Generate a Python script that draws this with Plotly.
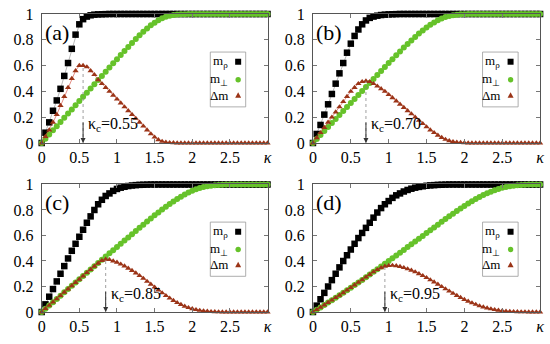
import plotly.graph_objects as go

# ---------------- data ----------------
kappa = [0.00, 0.05, 0.10, 0.15, 0.20, 0.25, 0.30, 0.35, 0.40, 0.45,
         0.50, 0.55, 0.60, 0.65, 0.70, 0.75, 0.80, 0.85, 0.90, 0.95,
         1.00, 1.05, 1.10, 1.15, 1.20, 1.25, 1.30, 1.35, 1.40, 1.45,
         1.50, 1.55, 1.60, 1.65, 1.70, 1.75, 1.80, 1.85, 1.90, 1.95,
         2.00, 2.05, 2.10, 2.15, 2.20, 2.25, 2.30, 2.35, 2.40, 2.45,
         2.50, 2.55, 2.60, 2.65, 2.70, 2.75, 2.80, 2.85, 2.90, 2.95,
         3.00]

# panel (a)
m_rho_a = [0, .08, .16, .25, .33, .42, .52, .62, .73, .84,
           .92, .96, .98, .99, .995, .997, .998, .999, 1, 1,
           1, 1, 1, 1, 1, 1, 1, 1, 1, 1,
           1, 1, 1, 1, 1, 1, 1, 1, 1, 1,
           1, 1, 1, 1, 1, 1, 1, 1, 1, 1,
           1, 1, 1, 1, 1, 1, 1, 1, 1, 1,
           1]
m_perp_a = [0, .033, .065, .098, .13, .163, .195, .228, .26, .293,
            .325, .358, .39, .423, .455, .488, .52, .553, .585, .618,
            .65, .682, .714, .745, .776, .806, .835, .862, .888, .912,
            .933, .952, .967, .979, .987, .992, .996, .998, .999, 1,
            1, 1, 1, 1, 1, 1, 1, 1, 1, 1,
            1, 1, 1, 1, 1, 1, 1, 1, 1, 1,
            1]
dm_a = [0, .05, .10, .16, .22, .29, .36, .43, .50, .56,
        .60, .60, .59, .56, .53, .49, .46, .43, .40, .37,
        .34, .31, .28, .25, .22, .19, .16, .13, .10, .07,
        .045, .025, .012, .005, .002, .001, 0, 0, 0, 0,
        0, 0, 0, 0, 0, 0, 0, 0, 0, 0,
        0, 0, 0, 0, 0, 0, 0, 0, 0, 0,
        0]

# panel (b)
m_rho_b = [0, .07, .14, .22, .30, .38, .46, .54, .62, .70,
           .77, .83, .88, .92, .95, .97, .98, .987, .992, .995,
           .997, .998, .999, 1, 1, 1, 1, 1, 1, 1,
           1, 1, 1, 1, 1, 1, 1, 1, 1, 1,
           1, 1, 1, 1, 1, 1, 1, 1, 1, 1,
           1, 1, 1, 1, 1, 1, 1, 1, 1, 1,
           1]
m_perp_b = [0, .031, .062, .093, .124, .155, .186, .217, .248, .279,
            .31, .341, .372, .403, .434, .465, .496, .527, .558, .589,
            .62, .65, .68, .71, .74, .768, .795, .822, .848, .872,
            .895, .916, .935, .951, .965, .976, .985, .991, .995, .998,
            .999, 1, 1, 1, 1, 1, 1, 1, 1, 1,
            1, 1, 1, 1, 1, 1, 1, 1, 1, 1,
            1]
dm_b = [0, .04, .08, .12, .16, .20, .24, .28, .32, .36,
        .40, .43, .46, .475, .48, .475, .46, .44, .42, .40,
        .375, .35, .325, .30, .275, .25, .225, .20, .175, .15,
        .125, .10, .08, .06, .042, .028, .017, .01, .005, .003,
        .001, 0, 0, 0, 0, 0, 0, 0, 0, 0,
        0, 0, 0, 0, 0, 0, 0, 0, 0, 0,
        0]

# panel (c)
m_rho_c = [0, .06, .12, .18, .24, .30, .36, .42, .48, .535,
           .59, .645, .70, .75, .80, .845, .88, .91, .93, .95,
           .965, .975, .982, .988, .992, .995, .997, .998, .999, 1,
           1, 1, 1, 1, 1, 1, 1, 1, 1, 1,
           1, 1, 1, 1, 1, 1, 1, 1, 1, 1,
           1, 1, 1, 1, 1, 1, 1, 1, 1, 1,
           1]
m_perp_c = [0, .026, .052, .077, .103, .128, .154, .18, .205, .231,
            .256, .282, .308, .333, .359, .384, .41, .435, .46, .485,
            .51, .535, .56, .585, .61, .635, .66, .685, .71, .734,
            .758, .781, .804, .826, .847, .867, .886, .904, .921, .937,
            .951, .963, .973, .981, .987, .991, .994, .996, .998, .999,
            1, 1, 1, 1, 1, 1, 1, 1, 1, 1,
            1]
dm_c = [0, .026, .052, .077, .103, .128, .154, .18, .205, .231,
        .256, .282, .308, .333, .358, .382, .403, .413, .41, .40,
        .39, .375, .36, .343, .325, .305, .285, .263, .24, .217,
        .195, .172, .15, .128, .108, .09, .073, .058, .045, .034,
        .025, .018, .012, .008, .005, .003, .002, .001, 0, 0,
        0, 0, 0, 0, 0, 0, 0, 0, 0, 0,
        0]

# panel (d)
m_rho_d = [0, .05, .10, .15, .20, .25, .30, .35, .40, .445,
           .49, .535, .58, .62, .66, .70, .74, .78, .815, .845,
           .87, .895, .915, .93, .945, .957, .967, .975, .981, .986,
           .99, .993, .995, .997, .998, .999, 1, 1, 1, 1,
           1, 1, 1, 1, 1, 1, 1, 1, 1, 1,
           1, 1, 1, 1, 1, 1, 1, 1, 1, 1,
           1]
m_perp_d = [0, .018, .036, .055, .074, .093, .112, .131, .151, .171,
            .191, .211, .232, .252, .273, .294, .315, .336, .357, .378,
            .40, .421, .443, .465, .487, .509, .531, .553, .575, .597,
            .619, .641, .663, .685, .707, .729, .75, .771, .792, .812,
            .832, .851, .869, .886, .902, .917, .931, .944, .955, .965,
            .974, .981, .987, .991, .994, .996, .998, .999, .999, 1,
            1]
dm_d = [0, .018, .036, .055, .074, .093, .112, .131, .151, .171,
        .191, .211, .232, .252, .273, .294, .314, .332, .347, .358,
        .364, .365, .362, .356, .348, .338, .327, .314, .30, .285,
        .269, .252, .235, .217, .199, .181, .163, .146, .129, .113,
        .098, .084, .071, .059, .048, .039, .031, .024, .018, .013,
        .009, .006, .004, .003, .002, .001, .001, 0, 0, 0,
        0]

panel_labels = ["(a)", "(b)", "(c)", "(d)"]
kappa_c = [0.55, 0.70, 0.85, 0.95]
kappa_c_labels = ["0.55", "0.70", "0.85", "0.95"]

x_tick_vals = [0, 0.5, 1, 1.5, 2, 2.5, 3]
x_tick_text = ["0", "0.5", "1", "1.5", "2", "2.5", "<i>κ</i>"]
y_tick_vals = [0, 0.2, 0.4, 0.6, 0.8, 1]
y_tick_text = ["0", "0.2", "0.4", "0.6", "0.8", "1"]

legend_names = ["m<sub>ρ</sub>", "m<sub>⊥</sub>", "Δm"]

series = [
    (m_rho_a, m_perp_a, dm_a),
    (m_rho_b, m_perp_b, dm_b),
    (m_rho_c, m_perp_c, dm_c),
    (m_rho_d, m_perp_d, dm_d),
]

# ---------------- style ----------------
FONT = "Liberation Serif, Times New Roman, Times, serif"
C_RHO = "#000000"
C_PERP = "#66c22a"
C_DM = "#9b3417"

x_domains = [[0.0758, 0.4864], [0.569, 0.982], [0.0758, 0.4864], [0.569, 0.982]]
y_domains = [[0.5843, 0.9593], [0.5843, 0.9593], [0.093, 0.4637], [0.093, 0.4637]]

fig = go.Figure()
layout = dict(
    width=550, height=344,
    margin=dict(l=0, r=0, t=0, b=0, autoexpand=False),
    paper_bgcolor="white", plot_bgcolor="white",
    showlegend=False,
    font=dict(family=FONT, color="black"),
)
annotations = []
shapes = []

for i in range(4):
    sx = "" if i == 0 else str(i + 1)
    xr, yr = "x" + sx, "y" + sx
    m_rho, m_perp, dm = series[i]

    fig.add_trace(go.Scatter(x=kappa, y=m_rho, xaxis=xr, yaxis=yr,
                             mode="lines+markers", cliponaxis=False,
                             line=dict(color="#888888", width=0.6),
                             marker=dict(symbol="square", size=6.5, color=C_RHO)))
    fig.add_trace(go.Scatter(x=kappa, y=m_perp, xaxis=xr, yaxis=yr,
                             mode="lines+markers", cliponaxis=False,
                             line=dict(color=C_PERP, width=0.6),
                             marker=dict(symbol="circle", size=6, color=C_PERP)))
    fig.add_trace(go.Scatter(x=kappa, y=dm, xaxis=xr, yaxis=yr,
                             mode="lines+markers", cliponaxis=False,
                             line=dict(color="#d04030", width=0.6),
                             marker=dict(symbol="triangle-up", size=5.5, color=C_DM)))

    axis_common = dict(showline=True, linecolor="#555555", linewidth=1,
                       mirror="ticks", ticks="inside", ticklen=4,
                       tickcolor="#777777", tickwidth=1,
                       showgrid=False, zeroline=False, automargin=False,
                       tickfont=dict(family=FONT, size=16, color="black"))
    layout["xaxis" + sx] = dict(axis_common, domain=x_domains[i], anchor=yr,
                                range=[0, 3], tickvals=x_tick_vals,
                                ticktext=x_tick_text)
    layout["yaxis" + sx] = dict(axis_common, domain=y_domains[i], anchor=xr,
                                range=[0, 1], tickvals=y_tick_vals,
                                ticktext=y_tick_text, ticklabelstandoff=4)

    # panel label
    annotations.append(dict(x=0.02, y=0.86, xref=xr, yref=yr, text=panel_labels[i],
                            showarrow=False, xanchor="left", yanchor="middle",
                            font=dict(family=FONT, size=22, color="black")))

    # kappa_c: dotted line up to the peak, arrow and label
    kc = kappa_c[i]
    peak = max(dm)
    shapes.append(dict(type="line", xref=xr, yref=yr, x0=kc, x1=kc, y0=0, y1=peak,
                       line=dict(color="#888888", width=0.8, dash="dot")))
    annotations.append(dict(x=kc, y=0, xref=xr, yref=yr, ax=kc, ay=0.17,
                            axref=xr, ayref=yr, text="", showarrow=True,
                            arrowhead=2, arrowsize=1, arrowwidth=1,
                            arrowcolor="#333333"))
    annotations.append(dict(x=kc + 0.04, y=0.14, xref=xr, yref=yr,
                            text="κ<sub>c</sub>=" + kappa_c_labels[i],
                            showarrow=False, xanchor="left", yanchor="middle",
                            font=dict(family=FONT, size=16, color="black")))

    # custom key (symbols to the right of the names)
    shapes.append(dict(type="rect", xref=xr, yref=yr, x0=2.24, x1=2.71,
                       y0=0.28, y1=0.705, line=dict(color="#999999", width=0.8),
                       fillcolor="white", layer="below"))
    key_y = [0.63, 0.49, 0.37]
    for j in range(3):
        annotations.append(dict(x=2.5, y=key_y[j], xref=xr, yref=yr,
                                text=legend_names[j], showarrow=False,
                                xanchor="right", yanchor="middle",
                                font=dict(family=FONT, size=13, color="black")))
    shapes.append(dict(type="rect", xref=xr, yref=yr, xsizemode="pixel",
                       ysizemode="pixel", xanchor=2.61, yanchor=key_y[0],
                       x0=-3, x1=3, y0=-3, y1=3, fillcolor=C_RHO,
                       line=dict(width=0)))
    shapes.append(dict(type="circle", xref=xr, yref=yr, xsizemode="pixel",
                       ysizemode="pixel", xanchor=2.61, yanchor=key_y[1],
                       x0=-2.7, x1=2.7, y0=-2.7, y1=2.7, fillcolor=C_PERP,
                       line=dict(width=0)))
    shapes.append(dict(type="path", xref=xr, yref=yr, xsizemode="pixel",
                       ysizemode="pixel", xanchor=2.61, yanchor=key_y[2],
                       path="M -3,-2.5 L 3,-2.5 L 0,3 Z", fillcolor=C_DM,
                       line=dict(width=0)))

layout["annotations"] = annotations
layout["shapes"] = shapes
fig.update_layout(**layout)
fig.write_html("out.html",
               config={"displayModeBar": False},
               post_script="document.body.style.margin='0';"
                           "document.body.style.overflow='hidden';")
